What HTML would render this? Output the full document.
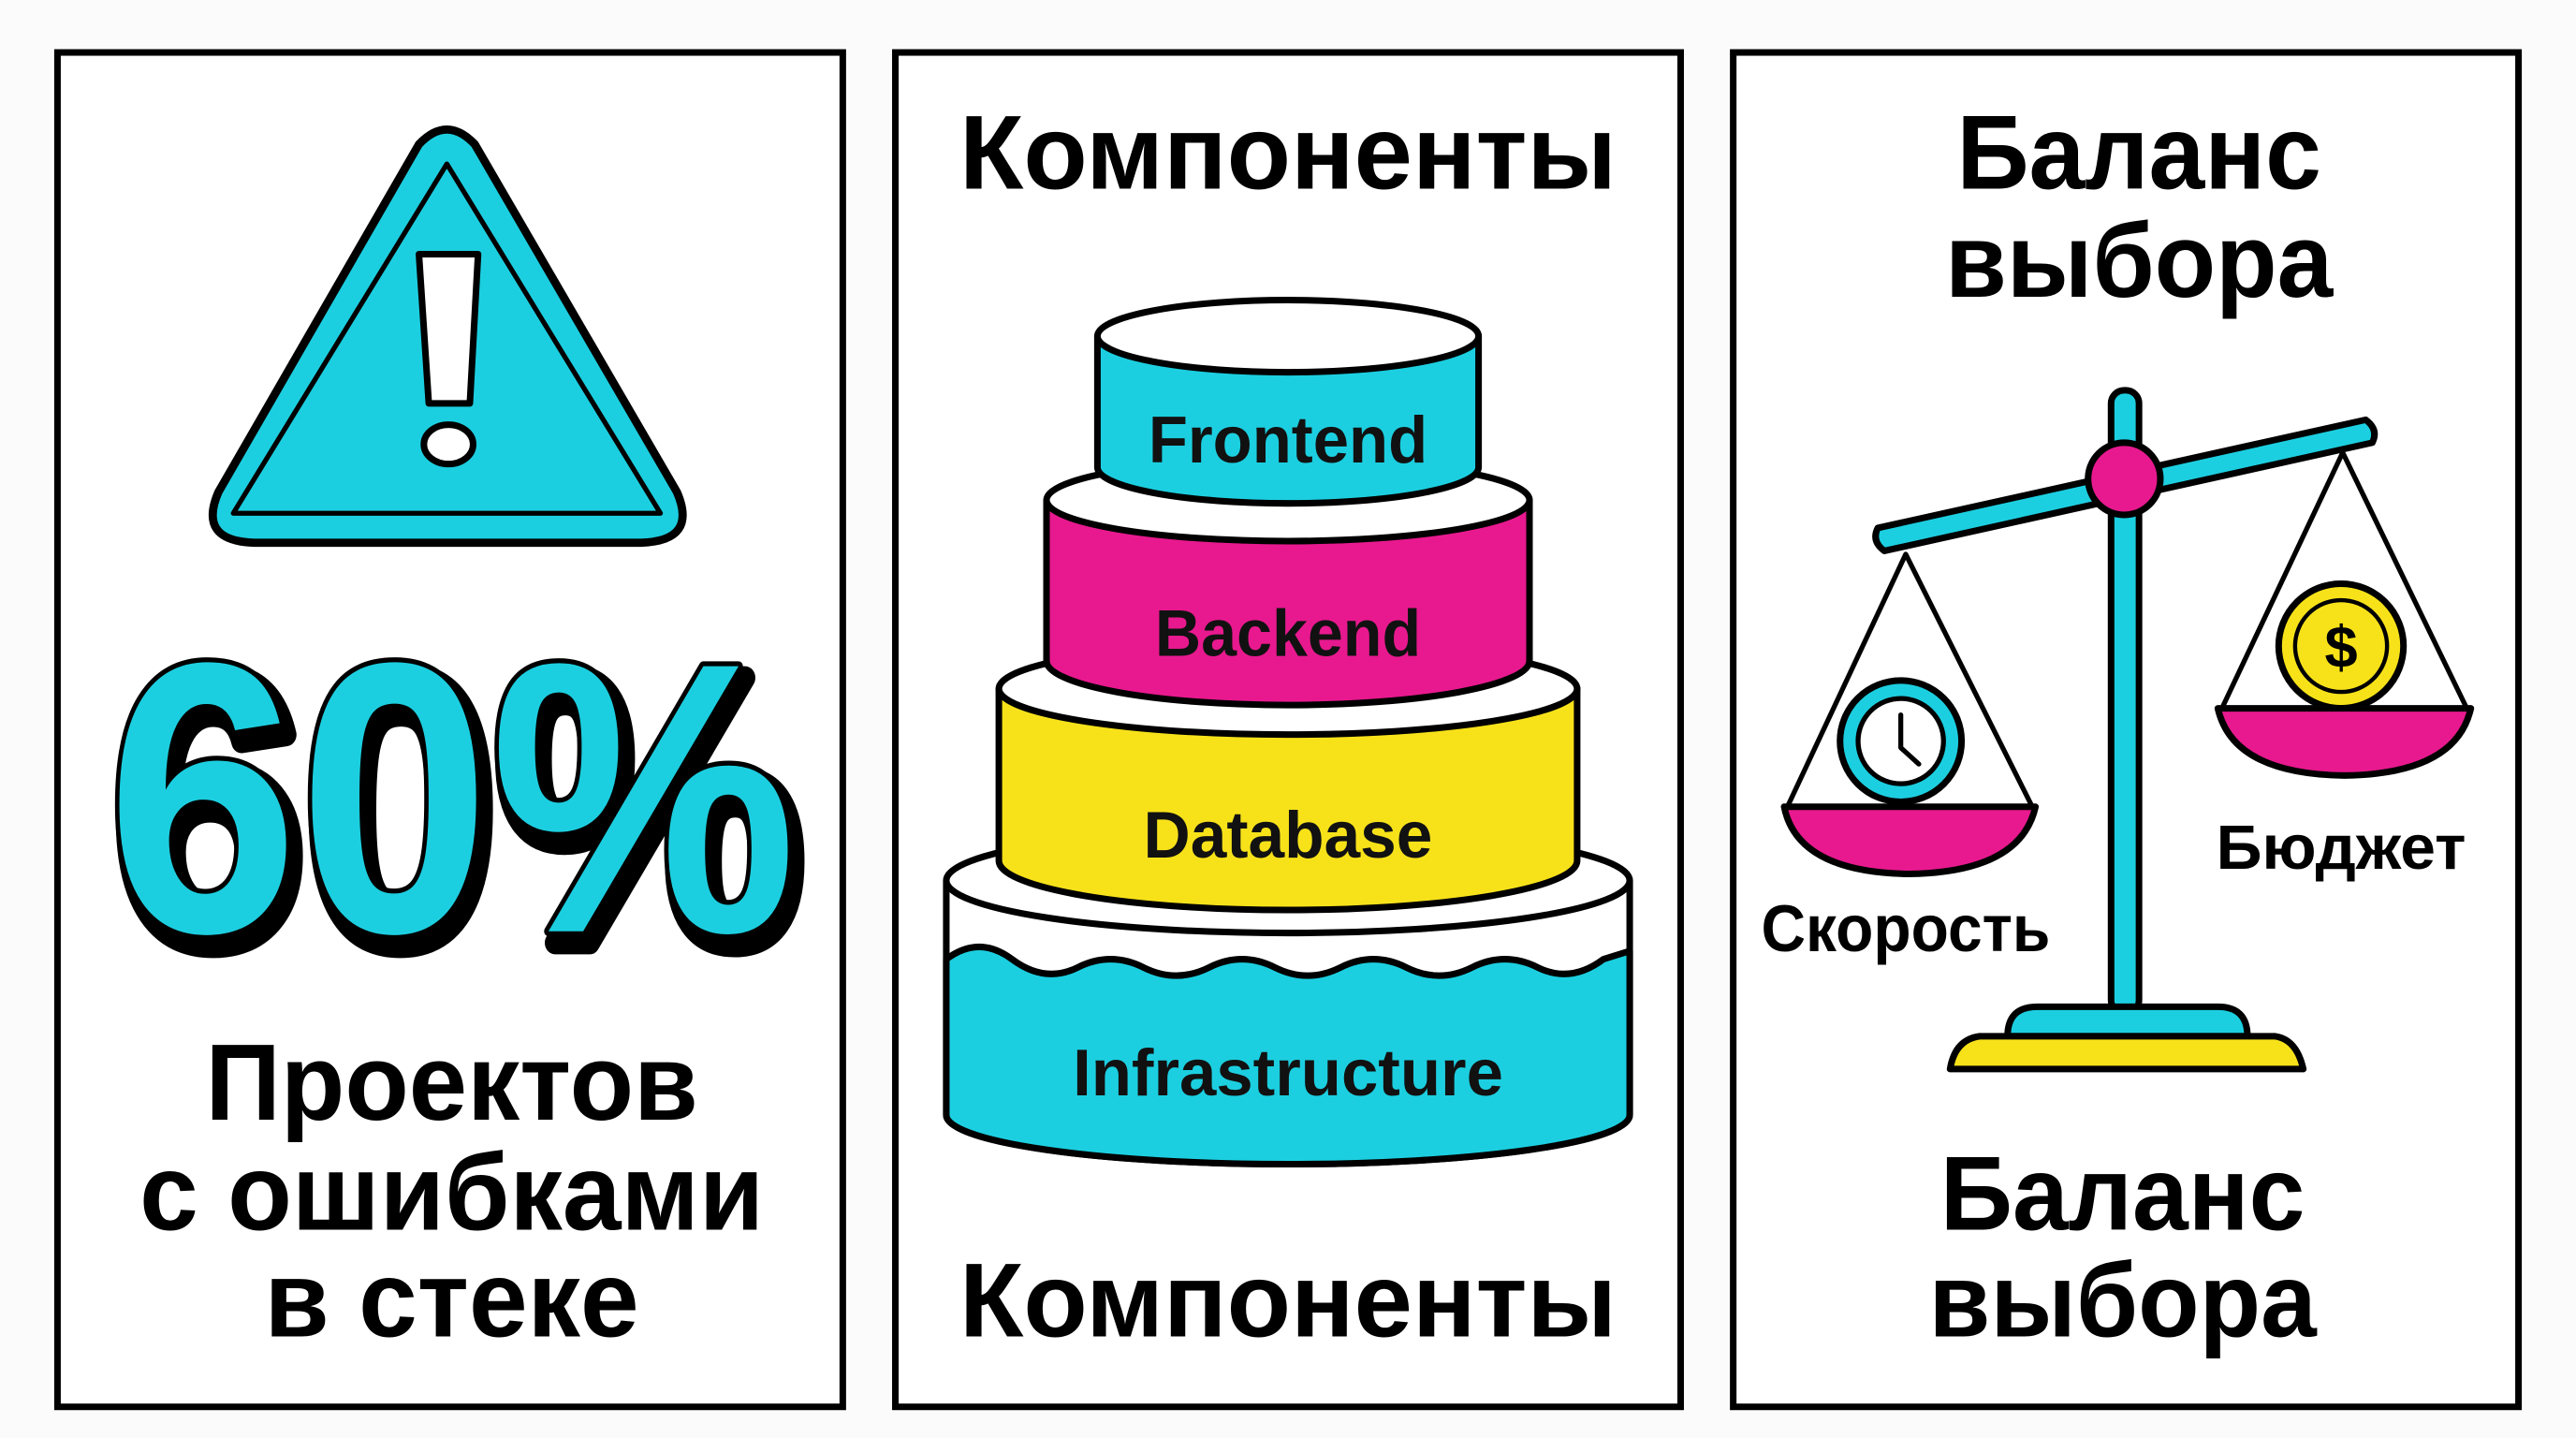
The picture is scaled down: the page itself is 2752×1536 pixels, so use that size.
<!DOCTYPE html>
<html><head><meta charset="utf-8"><style>
html,body{margin:0;padding:0;background:#fbfbfb}
svg{display:block}
text{font-family:"Liberation Sans","DejaVu Sans",sans-serif;font-weight:bold;text-anchor:middle}
</style></head><body>
<svg width="2752" height="1536" viewBox="0 0 1568 877" preserveAspectRatio="none" xmlns="http://www.w3.org/2000/svg">
<rect width="1568" height="877" fill="#fbfbfb"/>
<g fill="#fff" stroke="#000" stroke-width="4">
<rect x="35" y="32" width="478" height="826"/>
<rect x="545" y="32" width="478" height="826"/>
<rect x="1055" y="32" width="478" height="826"/>
</g>

<!-- Panel 1 -->
<path d="M255,88 Q272,70 289,88 L412,300 Q425,330 390,331 L155,331 Q120,330 133,300 Z" fill="#1ccfe0" stroke="#000" stroke-width="5" stroke-linejoin="round"/>
<path d="M272,100 L402,313 L142,313 Z" fill="none" stroke="#000" stroke-width="3" stroke-linejoin="round"/>
<path d="M255,155 L291,155 L286,246 L261,246 Z" fill="#fff" stroke="#000" stroke-width="4" stroke-linejoin="round"/>
<ellipse cx="273" cy="271" rx="15" ry="12" fill="#fff" stroke="#000" stroke-width="4"/>
<text x="279" y="575" font-size="235" textLength="420" lengthAdjust="spacingAndGlyphs" fill="#000" stroke="#000" stroke-width="14" stroke-linejoin="round">60%</text>
<text x="275" y="568" font-size="235" textLength="420" lengthAdjust="spacingAndGlyphs" fill="#1ccfe0" stroke="#000" stroke-width="6" stroke-linejoin="round" paint-order="stroke">60%</text>
<text x="275" y="683" font-size="66" textLength="300" lengthAdjust="spacingAndGlyphs">Проектов</text>
<text x="275" y="750" font-size="66" textLength="380" lengthAdjust="spacingAndGlyphs">с ошибками</text>
<text x="275" y="815" font-size="66" textLength="228" lengthAdjust="spacingAndGlyphs">в стеке</text>

<!-- Panel 2 -->
<text x="784" y="115" font-size="64" textLength="400" lengthAdjust="spacingAndGlyphs">Компоненты</text>
<text x="784" y="815" font-size="64" textLength="400" lengthAdjust="spacingAndGlyphs">Компоненты</text>
<g stroke="#000" stroke-width="4" stroke-linejoin="round">
<!-- Infrastructure -->
<path d="M576,537 L576,680 A208,30 0 0 0 992,680 L992,537 Z" fill="#fff"/>
<path d="M576,585 Q596,570 616,585 T656,590 T696,590 T736,590 T776,590 T816,590 T856,590 T896,590 T936,590 T976,585 L992,580 L992,680 A208,30 0 0 1 576,680 Z" fill="#1ccfe0"/>
<ellipse cx="784" cy="537" rx="208" ry="32" fill="#fff"/>
<!-- Database -->
<path d="M608,420 L608,525 A176,30 0 0 0 960,525 L960,420 Z" fill="#f7e21a"/>
<ellipse cx="784" cy="420" rx="176" ry="28" fill="#fff"/>
<!-- Backend -->
<path d="M637,305 L637,403 A147,27 0 0 0 931,403 L931,305 Z" fill="#e8198f"/>
<ellipse cx="784" cy="305" rx="147" ry="25" fill="#fff"/>
<!-- Frontend -->
<path d="M668,205 L668,285 A116,22 0 0 0 900,285 L900,205 Z" fill="#1ccfe0"/>
<ellipse cx="784" cy="205" rx="116" ry="22" fill="#fff"/>
</g>
<text x="784" y="282" font-size="40" textLength="170" lengthAdjust="spacingAndGlyphs" fill="#111">Frontend</text>
<text x="784" y="400" font-size="40" textLength="162" lengthAdjust="spacingAndGlyphs" fill="#111">Backend</text>
<text x="784" y="523" font-size="40" textLength="176" lengthAdjust="spacingAndGlyphs" fill="#111">Database</text>
<text x="784" y="668" font-size="40" textLength="262" lengthAdjust="spacingAndGlyphs" fill="#111">Infrastructure</text>

<!-- Panel 3 -->
<text x="1302" y="115" font-size="64" textLength="222" lengthAdjust="spacingAndGlyphs">Баланс</text>
<text x="1302" y="181" font-size="64" textLength="236" lengthAdjust="spacingAndGlyphs">выбора</text>
<text x="1292" y="750" font-size="64" textLength="222" lengthAdjust="spacingAndGlyphs">Баланс</text>
<text x="1292" y="815" font-size="64" textLength="236" lengthAdjust="spacingAndGlyphs">выбора</text>
<g stroke="#000" stroke-width="4" stroke-linejoin="round" stroke-linecap="round">
<!-- strings -->
<path d="M1160,338 L1088,492 M1160,338 L1237,492" fill="none" stroke-width="3"/>
<path d="M1426,276 L1352,433 M1426,276 L1502,433" fill="none" stroke-width="3"/>
<!-- pole -->
<rect x="1285" y="238" width="17" height="380" rx="8" fill="#1ccfe0"/>
<!-- beam -->
<path d="M1143,322 L1440,256 Q1448,262 1444,270 L1147,336 Q1139,330 1143,322 Z" fill="#1ccfe0"/>
<circle cx="1293" cy="292" r="22" fill="#e8198f"/>
<!-- left pan -->
<circle cx="1157" cy="452" r="37" fill="#1ccfe0"/>
<circle cx="1157" cy="452" r="26" fill="#fff" stroke-width="3"/>
<path d="M1157,436 L1157,456 L1168,466" fill="none" stroke-width="3"/>
<path d="M1086,492 L1239,492 Q1230,532 1162,533 Q1094,532 1086,492 Z" fill="#e8198f"/>
<!-- right pan -->
<circle cx="1425" cy="394" r="38" fill="#f7e21a"/>
<circle cx="1425" cy="394" r="28" fill="none" stroke-width="2.5"/>
<path d="M1350,432 L1504,432 Q1495,472 1427,473 Q1359,472 1350,432 Z" fill="#e8198f"/>
<!-- base -->
<path d="M1222,632 Q1222,614 1240,614 L1350,614 Q1368,614 1368,632 Z" fill="#1ccfe0"/>
<path d="M1187,652 Q1190,634 1205,632 L1385,632 Q1398,634 1402,652 Z" fill="#f7e21a"/>
</g>
<text x="1425" y="407" font-size="36" fill="#000">$</text>
<text x="1160" y="580" font-size="40" textLength="176" lengthAdjust="spacingAndGlyphs">Скорость</text>
<text x="1425" y="530" font-size="38" textLength="152" lengthAdjust="spacingAndGlyphs">Бюджет</text>
</svg>
</body></html>
